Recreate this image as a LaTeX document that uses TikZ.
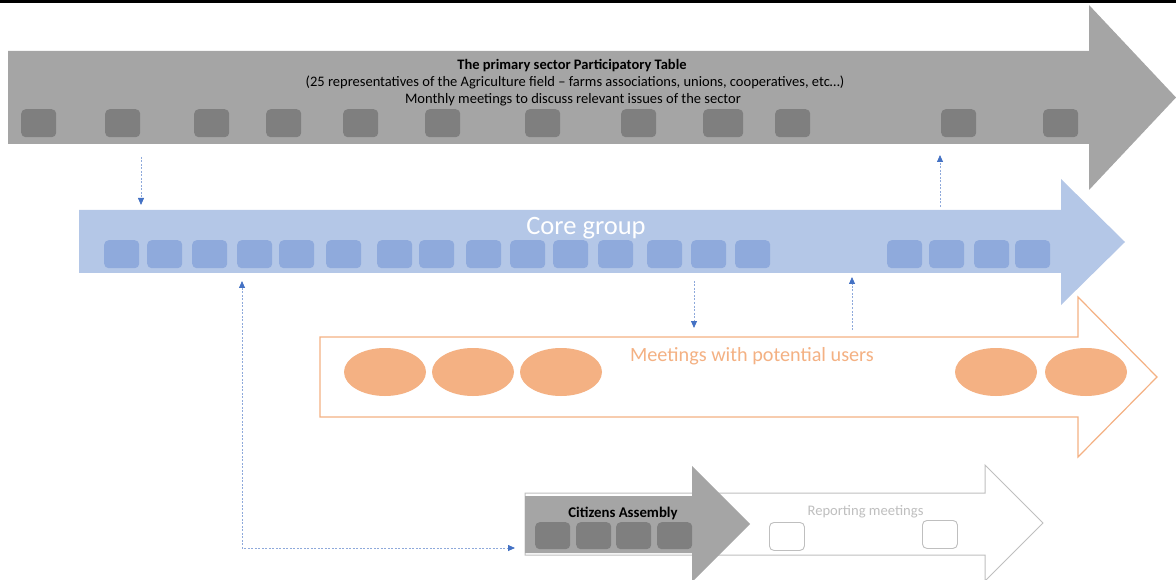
\documentclass[tikz,border=0pt]{standalone}
\usepackage{fontspec}
\setmainfont{Carlito}
\usetikzlibrary{arrows.meta,shapes.geometric}
\definecolor{tablegray}{HTML}{A5A5A5}
\definecolor{seatgray}{HTML}{7F7F7F}
\definecolor{coreblue}{HTML}{B4C7E7}
\definecolor{seatblue}{HTML}{8FAADC}
\definecolor{userorange}{HTML}{F4B183}
\definecolor{linkblue}{HTML}{8EA9DB}
\definecolor{tipblue}{HTML}{4472C4}
\definecolor{reportgray}{HTML}{BFBFBF}
\begin{document}
\begin{tikzpicture}[x=1pt,y=-1pt,
  seat/.style={rounded corners=4.5pt, minimum width=35pt, minimum height=28pt,
    inner sep=0pt, anchor=north west},
  grayseat/.style={seat, fill=seatgray},
  blueseat/.style={seat, fill=seatblue},
  reportseat/.style={seat, fill=white, draw=reportgray, line width=0.9pt},
  usermeet/.style={ellipse, fill=userorange, minimum width=82pt, minimum height=48pt, inner sep=0pt},
  link/.style={draw=linkblue, line width=0.8pt, dash pattern=on 2pt off 1.5pt,
    -{Triangle[length=7pt,width=6pt,color=tipblue]}},
  twolink/.style={link, {Triangle[length=7pt,width=6pt,color=tipblue]}-{Triangle[length=7pt,width=6pt,color=tipblue]}},
  txt/.style={inner sep=0pt, anchor=base},
  small/.style={font=\fontsize{14.5}{17}\selectfont},
  smallbold/.style={font=\fontsize{14.5}{17}\selectfont\bfseries},
]
\useasboundingbox (0,0) rectangle (1176,580);
\fill[black] (0,0) rectangle (1176,3);

% Participatory table band
\fill[tablegray] (8,51) -- (1089,51) -- (1089,5) -- (1176,97.5) -- (1089,190) -- (1089,144) -- (8,144) -- cycle;
\node[txt, smallbold] (tabletitle) at (572,69.5) {The primary sector Participatory Table};
\node[txt, small] (tablesub) at (575,87) {(25 representatives of the Agriculture field -- farms associations, unions, cooperatives, etc…)};
\node[txt, small] (tablemonthly) at (573,104) {Monthly meetings to discuss relevant issues of the sector};
\foreach \x [count=\i] in {21,105,194,266,343,425,525,621,775,941,1043}
  \node[grayseat] (ts\i) at (\x,109) {};
\node[grayseat, minimum width=40pt] (tswide) at (703,109) {};

% Core group band
\fill[coreblue] (79,210) -- (1061,210) -- (1061,179) -- (1125,242) -- (1061,305) -- (1061,273) -- (79,273) -- cycle;
\node[txt, text=white, font=\fontsize{26.5}{30}\selectfont] (coretitle) at (586,235) {Core group};
\foreach \x [count=\i] in {104,147,192,237,279,326,377,419,466,510,553,598,647,691,735,887,929,974,1015}
  \node[blueseat] (cs\i) at (\x,240) {};

% Meetings with potential users
\draw[userorange, line width=1.2pt, fill=white] (320,337) -- (1078,337) -- (1078,297) -- (1157,377) -- (1078,457) -- (1078,417) -- (320,417) -- cycle;
\node[txt, text=userorange, font=\fontsize{20.2}{23}\selectfont] (usertitle) at (752,361) {Meetings with potential users};
\foreach \x [count=\i] in {385,473,561,996,1086}
  \node[usermeet] (um\i) at (\x,372) {};

% Reporting meetings and citizens assembly
\draw[reportgray, line width=1pt, fill=white] (525,493) -- (985,493) -- (985,465) -- (1043,523) -- (985,581) -- (985,555) -- (525,555) -- cycle;
\node[txt, text=reportgray, font=\fontsize{14.6}{17}\selectfont] (reporttitle) at (865.5,515) {Reporting meetings};
\node[reportseat] (rs1) at (769,522) {};
\node[reportseat] (rs2) at (922,520) {};
\fill[tablegray] (525,496) -- (692,496) -- (692,466) -- (750,524) -- (692,582) -- (692,553) -- (525,553) -- cycle;
\node[txt, font=\fontsize{14.8}{17}\selectfont\bfseries] (citizenstitle) at (623,517) {Citizens Assembly};
\foreach \x [count=\i] in {535,576,616,657}
  \node[grayseat, minimum height=27pt] (as\i) at (\x,522) {};

% Dotted links between the groups
\coordinate (tableout) at (141,157);
\coordinate (corein) at (141,205);
\coordinate (coreup) at (940,207);
\coordinate (tablein) at (940,155);
\coordinate (coredown) at (694,281);
\coordinate (userin) at (694,328);
\coordinate (userup) at (852,330);
\coordinate (corefromuser) at (852,277);
\coordinate (coreassembly) at (242,281);
\coordinate (assemblyin) at (515,548);
\draw[link] (tableout) -- (corein);
\draw[link] (coreup) -- (tablein);
\draw[link] (coredown) -- (userin);
\draw[link] (userup) -- (corefromuser);
\draw[twolink] (coreassembly) |- (assemblyin);
\end{tikzpicture}
\end{document}
